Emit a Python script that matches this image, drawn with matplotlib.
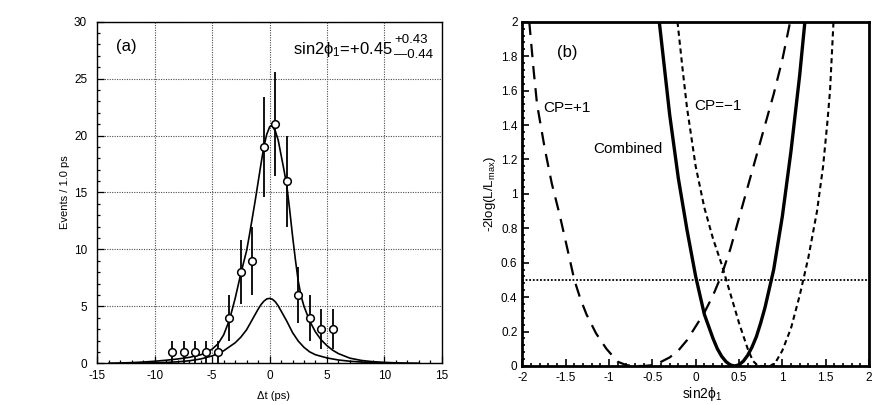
import matplotlib
matplotlib.use('Agg')
import matplotlib.pyplot as plt
from matplotlib.ticker import MultipleLocator, FormatStrFormatter

plt.rcParams['font.family'] = ['Liberation Sans', 'DejaVu Sans']
plt.rcParams['mathtext.fontset'] = 'custom'
plt.rcParams['mathtext.rm'] = 'Liberation Sans'
plt.rcParams['mathtext.it'] = 'Liberation Sans'
plt.rcParams['mathtext.bf'] = 'Liberation Sans:bold'
plt.rcParams['axes.unicode_minus'] = False

# ---------------- (a) dt distribution ----------------
dt_bins = [-8.5, -7.5, -6.5, -5.5, -4.5, -3.5, -2.5, -1.5, -0.5, 0.5, 1.5, 2.5, 3.5, 4.5, 5.5]
events = [1, 1, 1, 1, 1, 4, 8, 9, 19, 21, 16, 6, 4, 3, 3]
events_err = [1, 1, 1, 1, 1, 2, 2.83, 3, 4.36, 4.58, 4, 2.45, 2, 1.73, 1.73]

# fit curve (total)
fit_t = [-14, -13, -12, -11, -10, -9, -8, -7, -6, -5.5, -5, -4.5, -4, -3.5, -3, -2.5, -2.25, -2,
         -1.75, -1.5, -1.25, -1, -0.75, -0.5, -0.25, 0, 0.1, 0.25, 0.5, 0.75, 1, 1.25, 1.5, 1.75,
         2, 2.25, 2.5, 2.75, 3, 3.5, 4, 4.5, 5, 5.5, 6, 7, 8, 9, 10, 11, 12, 13]
fit_total = [0.01, 0.03, 0.06, 0.11, 0.18, 0.27, 0.38, 0.52, 0.75, 0.95, 1.25, 1.7, 2.5, 3.8, 5.7, 7.9, 8.9, 9.9,
             11.3, 12.8, 14.3, 15.9, 17.5, 19.0, 20.1, 20.75, 20.85, 20.8, 20.4, 19.6, 18.3, 17.0, 15.6, 13.5,
             11.2, 9.1, 7.2, 5.9, 5.0, 3.7, 2.75, 2.05, 1.55, 1.15, 0.85, 0.45, 0.25, 0.14, 0.08, 0.04, 0.02, 0.01]

# background-like component
bkg_t = [-12, -11, -10, -9, -8, -7, -6, -5, -4.5, -4, -3.5, -3, -2.5, -2, -1.5, -1.25, -1, -0.75, -0.5,
         -0.25, 0, 0.25, 0.5, 0.75, 1, 1.25, 1.5, 2, 2.5, 3, 3.5, 4, 5, 6, 7, 8, 9, 10, 11]
bkg = [0.015, 0.025, 0.045, 0.075, 0.13, 0.22, 0.38, 0.65, 0.85, 1.1, 1.45, 1.8, 2.3, 2.95, 3.85, 4.3, 4.75,
       5.15, 5.45, 5.65, 5.7, 5.62, 5.4, 5.05, 4.6, 4.15, 3.7, 2.7, 1.95, 1.4, 1.0, 0.75, 0.47, 0.29, 0.18,
       0.11, 0.07, 0.04, 0.02]

# ---------------- (b) likelihood scans ----------------
comb_x = [-0.42, -0.3, -0.2, -0.1, 0.0, 0.1, 0.2, 0.25, 0.3, 0.35, 0.4, 0.45, 0.5, 0.55, 0.6, 0.65, 0.7,
          0.75, 0.8, 0.9, 1.0, 1.1, 1.2, 1.26]
comb_y = [2.0, 1.46, 1.09, 0.79, 0.52, 0.30, 0.16, 0.10, 0.056, 0.025, 0.006, 0.0, 0.007, 0.028, 0.062,
          0.11, 0.17, 0.25, 0.34, 0.56, 0.87, 1.25, 1.69, 2.0]

cpp_x = [-1.92, -1.87, -1.83, -1.74, -1.66, -1.57, -1.48, -1.40, -1.33, -1.26, -1.15, -1.03, -0.9, -0.8,
         -0.7, -0.6, -0.5, -0.435, -0.3, -0.2, -0.1, 0.0, 0.1, 0.2, 0.3, 0.4, 0.5, 0.6, 0.7, 0.8, 0.9,
         1.0, 1.09]
cpp_y = [2.0, 1.72, 1.52, 1.26, 1.06, 0.88, 0.68, 0.50, 0.39, 0.30, 0.19, 0.10, 0.025, 0.005, 0.0, 0.0,
         0.005, 0.015, 0.05, 0.09, 0.15, 0.23, 0.31, 0.41, 0.53, 0.68, 0.86, 1.04, 1.22, 1.40, 1.58,
         1.78, 2.0]

cpm_x = [-0.21, -0.15, -0.1, 0.0, 0.1, 0.2, 0.3, 0.4, 0.5, 0.6, 0.66, 0.72, 0.86, 0.92, 1.0, 1.1, 1.2,
         1.3, 1.4, 1.47, 1.52, 1.55, 1.59]
cpm_y = [2.0, 1.72, 1.50, 1.16, 0.92, 0.74, 0.59, 0.42, 0.25, 0.10, 0.03, 0.0, 0.0, 0.02, 0.09, 0.22,
         0.41, 0.63, 0.90, 1.16, 1.42, 1.60, 2.0]

threshold = 0.5

fig = plt.figure(figsize=(8.72, 4.05), dpi=100)

#####################################################################
#                    (a)
ax1 = fig.add_axes([0.1118, 0.103, 0.3947, 0.8435])
ax1.set_xlim(-15, 15)
ax1.set_ylim(0, 30)
ax1.xaxis.set_major_locator(MultipleLocator(5))
ax1.xaxis.set_minor_locator(MultipleLocator(1))
ax1.yaxis.set_major_locator(MultipleLocator(5))
ax1.yaxis.set_minor_locator(MultipleLocator(1))
ax1.grid(True, which='major', linestyle=(0, (1, 1.2)), color='0.3', linewidth=0.8)
ax1.set_axisbelow(True)
ax1.tick_params(which='both', direction='in', top=False, right=False, labelsize=8.5, width=0.9)
ax1.tick_params(which='major', length=5)
ax1.tick_params(which='minor', length=2.5)
ax1.tick_params(axis='y', which='both', pad=7.5)
ax1.tick_params(axis='x', which='both', pad=4.5)
for s in ax1.spines.values():
    s.set_linewidth(1.0)

ax1.plot(fit_t, fit_total, color='black', lw=1.2, zorder=3)
ax1.plot(bkg_t, bkg, color='black', lw=1.2, zorder=3)
ax1.errorbar(dt_bins, events, yerr=events_err, fmt='o', color='black', ms=5.5, mfc='white',
             mec='black', mew=1.1, elinewidth=1.3, capsize=0, zorder=4)

ax1.set_xlabel('Δt (ps)', fontsize=8)
ax1.set_ylabel('Events / 1.0 ps', fontsize=8)
ax1.xaxis.set_label_coords(0.51, -0.08)
ax1.yaxis.set_label_coords(-0.08, 0.5)

ax1.text(-12.5, 27.8, '(a)', fontsize=12, ha='center', va='center')
ax1.text(10.75, 27.2, 'sin2ϕ$_1$=+0.45', fontsize=12, ha='right', va='baseline')
ax1.text(10.85, 28.15, '+0.43', fontsize=9.5, ha='left', va='baseline')
ax1.text(10.85, 26.8, '\u20140.44', fontsize=9.5, ha='left', va='baseline')

#####################################################################
#                    (b)
ax2 = fig.add_axes([0.599, 0.0963, 0.3976, 0.850])
ax2.xaxis.set_major_locator(MultipleLocator(0.5))
ax2.xaxis.set_minor_locator(MultipleLocator(0.1))
ax2.yaxis.set_major_locator(MultipleLocator(0.2))
ax2.yaxis.set_minor_locator(MultipleLocator(0.04))
ax2.xaxis.set_major_formatter(FormatStrFormatter('%g'))
ax2.yaxis.set_major_formatter(FormatStrFormatter('%g'))
ax2.tick_params(which='both', direction='in', top=False, right=False, labelsize=8.5, width=1.2)
ax2.tick_params(which='major', length=5)
ax2.tick_params(which='minor', length=2.5)
ax2.tick_params(axis='x', which='both', pad=4.5)
for s in ax2.spines.values():
    s.set_linewidth(2.0)

ax2.axhline(threshold, color='black', lw=1.3, linestyle=(0, (1, 1)))
ax2.plot(comb_x, comb_y, color='black', lw=2.4, solid_capstyle='butt')
ax2.plot(cpp_x, cpp_y, color='black', lw=1.6, linestyle=(0, (6, 4)))
ax2.plot(cpm_x, cpm_y, color='black', lw=1.5, linestyle=(0, (2.5, 1.8)))
ax2.set_xlim(-2, 2)
ax2.set_ylim(0, 2)

ax2.set_xlabel('sin2ϕ$_1$', fontsize=10)
ax2.set_ylabel('-2log(L/L$_{max}$)', fontsize=9.5)
ax2.xaxis.set_label_coords(0.52, -0.055)
ax2.yaxis.set_label_coords(-0.07, 0.5)

ax2.text(-1.48, 1.82, '(b)', fontsize=12, ha='center', va='center')
ax2.text(-1.76, 1.50, 'CP=+1', fontsize=11, ha='left', va='center')
ax2.text(-1.18, 1.26, 'Combined', fontsize=11, ha='left', va='center')
ax2.text(-0.02, 1.51, 'CP=\u22121', fontsize=11, ha='left', va='center')

plt.savefig('out.png', dpi=100)
